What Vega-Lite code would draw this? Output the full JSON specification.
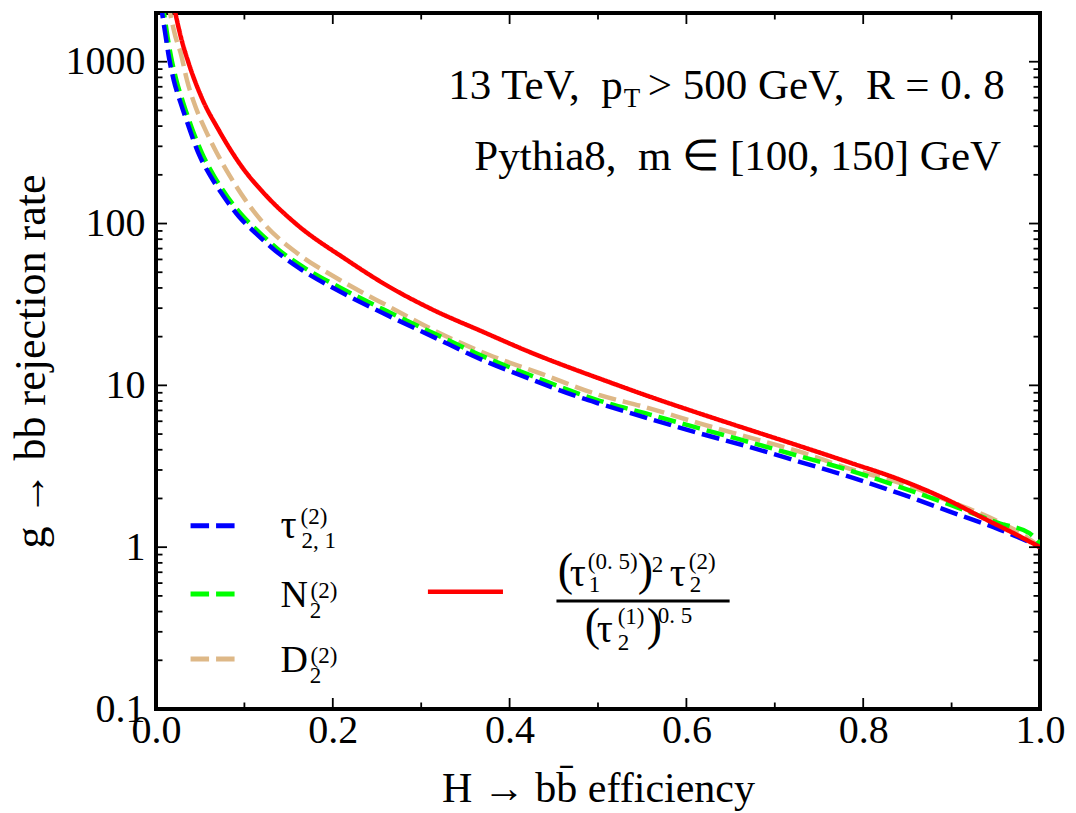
{
  "$schema": "https://vega.github.io/schema/vega-lite/v6.json",
  "autosize": {"type": "none"},
  "width": 884,
  "height": 696,
  "padding": {"left": 156, "top": 13, "right": 36, "bottom": 104},
  "background": "white",
  "config": {
    "view": {"stroke": "black", "strokeWidth": 4},
    "text": {"font": "Liberation Serif", "color": "black"}
  },
  "datasets": {
    "xticks": [
      {"t": 0, "k": "major"}, {"t": 0.1, "k": "minor"}, {"t": 0.2, "k": "major"}, {"t": 0.3, "k": "minor"},
      {"t": 0.4, "k": "major"}, {"t": 0.5, "k": "minor"}, {"t": 0.6, "k": "major"}, {"t": 0.7, "k": "minor"},
      {"t": 0.8, "k": "major"}, {"t": 0.9, "k": "minor"}, {"t": 1.0, "k": "major"}
    ],
    "yticks": [
      {"t": 0.1, "k": "major"}, {"t": 0.2, "k": "minor"}, {"t": 0.3, "k": "minor"}, {"t": 0.4, "k": "minor"}, {"t": 0.5, "k": "minor"},
      {"t": 0.6, "k": "minor"}, {"t": 0.7, "k": "minor"}, {"t": 0.8, "k": "minor"}, {"t": 0.9, "k": "minor"},
      {"t": 1, "k": "major"}, {"t": 2, "k": "minor"}, {"t": 3, "k": "minor"}, {"t": 4, "k": "minor"}, {"t": 5, "k": "minor"},
      {"t": 6, "k": "minor"}, {"t": 7, "k": "minor"}, {"t": 8, "k": "minor"}, {"t": 9, "k": "minor"},
      {"t": 10, "k": "major"}, {"t": 20, "k": "minor"}, {"t": 30, "k": "minor"}, {"t": 40, "k": "minor"}, {"t": 50, "k": "minor"},
      {"t": 60, "k": "minor"}, {"t": 70, "k": "minor"}, {"t": 80, "k": "minor"}, {"t": 90, "k": "minor"},
      {"t": 100, "k": "major"}, {"t": 200, "k": "minor"}, {"t": 300, "k": "minor"}, {"t": 400, "k": "minor"}, {"t": 500, "k": "minor"},
      {"t": 600, "k": "minor"}, {"t": 700, "k": "minor"}, {"t": 800, "k": "minor"}, {"t": 900, "k": "minor"},
      {"t": 1000, "k": "major"}
    ]
  },
  "layer": [
    {
      "data": {"values": [
        {"s": "D2", "e": 0.013, "v": 2400}, {"s": "D2", "e": 0.016, "v": 1990}, {"s": "D2", "e": 0.022, "v": 1430},
        {"s": "D2", "e": 0.028, "v": 1127}, {"s": "D2", "e": 0.035, "v": 771}, {"s": "D2", "e": 0.045, "v": 521},
        {"s": "D2", "e": 0.056, "v": 378}, {"s": "D2", "e": 0.069, "v": 272}, {"s": "D2", "e": 0.084, "v": 195},
        {"s": "D2", "e": 0.101, "v": 140}, {"s": "D2", "e": 0.122, "v": 100}, {"s": "D2", "e": 0.16, "v": 65.4},
        {"s": "D2", "e": 0.208, "v": 44.8}, {"s": "D2", "e": 0.264, "v": 30.6}, {"s": "D2", "e": 0.321, "v": 21},
        {"s": "D2", "e": 0.377, "v": 15.4}, {"s": "D2", "e": 0.434, "v": 11.9}, {"s": "D2", "e": 0.502, "v": 8.7},
        {"s": "D2", "e": 0.551, "v": 7.4}, {"s": "D2", "e": 0.615, "v": 5.82}, {"s": "D2", "e": 0.672, "v": 4.75},
        {"s": "D2", "e": 0.728, "v": 3.89}, {"s": "D2", "e": 0.785, "v": 3.05}, {"s": "D2", "e": 0.841, "v": 2.5},
        {"s": "D2", "e": 0.898, "v": 1.92}, {"s": "D2", "e": 0.955, "v": 1.42}, {"s": "D2", "e": 0.98, "v": 1.2},
        {"s": "D2", "e": 1.0, "v": 1.0},
        {"s": "N2", "e": 0.006, "v": 2400}, {"s": "N2", "e": 0.009, "v": 1990}, {"s": "N2", "e": 0.013, "v": 1430},
        {"s": "N2", "e": 0.017, "v": 1074}, {"s": "N2", "e": 0.023, "v": 771}, {"s": "N2", "e": 0.031, "v": 553},
        {"s": "N2", "e": 0.04, "v": 397}, {"s": "N2", "e": 0.052, "v": 272}, {"s": "N2", "e": 0.066, "v": 195},
        {"s": "N2", "e": 0.081, "v": 146}, {"s": "N2", "e": 0.099, "v": 110}, {"s": "N2", "e": 0.118, "v": 87},
        {"s": "N2", "e": 0.14, "v": 68}, {"s": "N2", "e": 0.165, "v": 54.5}, {"s": "N2", "e": 0.208, "v": 40.2},
        {"s": "N2", "e": 0.257, "v": 29.5}, {"s": "N2", "e": 0.313, "v": 21.1}, {"s": "N2", "e": 0.37, "v": 15.1},
        {"s": "N2", "e": 0.426, "v": 11.4}, {"s": "N2", "e": 0.483, "v": 8.7}, {"s": "N2", "e": 0.502, "v": 8.03},
        {"s": "N2", "e": 0.559, "v": 6.6}, {"s": "N2", "e": 0.615, "v": 5.42}, {"s": "N2", "e": 0.672, "v": 4.45},
        {"s": "N2", "e": 0.728, "v": 3.65}, {"s": "N2", "e": 0.785, "v": 2.98}, {"s": "N2", "e": 0.841, "v": 2.36},
        {"s": "N2", "e": 0.898, "v": 1.83}, {"s": "N2", "e": 0.955, "v": 1.4}, {"s": "N2", "e": 0.988, "v": 1.22},
        {"s": "N2", "e": 1.0, "v": 1.05},
        {"s": "tau21", "e": 0.005, "v": 2400}, {"s": "tau21", "e": 0.007, "v": 1990}, {"s": "tau21", "e": 0.011, "v": 1430},
        {"s": "tau21", "e": 0.0145, "v": 1074}, {"s": "tau21", "e": 0.02, "v": 771}, {"s": "tau21", "e": 0.028, "v": 553},
        {"s": "tau21", "e": 0.037, "v": 397}, {"s": "tau21", "e": 0.048, "v": 272}, {"s": "tau21", "e": 0.062, "v": 195},
        {"s": "tau21", "e": 0.077, "v": 146}, {"s": "tau21", "e": 0.094, "v": 110}, {"s": "tau21", "e": 0.113, "v": 87},
        {"s": "tau21", "e": 0.135, "v": 68}, {"s": "tau21", "e": 0.162, "v": 53}, {"s": "tau21", "e": 0.208, "v": 38},
        {"s": "tau21", "e": 0.257, "v": 27.9}, {"s": "tau21", "e": 0.313, "v": 20.0}, {"s": "tau21", "e": 0.37, "v": 14.3},
        {"s": "tau21", "e": 0.426, "v": 10.8}, {"s": "tau21", "e": 0.483, "v": 8.3}, {"s": "tau21", "e": 0.502, "v": 7.7},
        {"s": "tau21", "e": 0.559, "v": 6.2}, {"s": "tau21", "e": 0.615, "v": 5.05}, {"s": "tau21", "e": 0.672, "v": 4.15},
        {"s": "tau21", "e": 0.728, "v": 3.37}, {"s": "tau21", "e": 0.785, "v": 2.72}, {"s": "tau21", "e": 0.841, "v": 2.15},
        {"s": "tau21", "e": 0.898, "v": 1.66}, {"s": "tau21", "e": 0.955, "v": 1.28}, {"s": "tau21", "e": 0.992, "v": 1.05},
        {"s": "tau21", "e": 1.0, "v": 1.0},
        {"s": "ratio", "e": 0.019, "v": 2400}, {"s": "ratio", "e": 0.022, "v": 1990}, {"s": "ratio", "e": 0.0277, "v": 1452},
        {"s": "ratio", "e": 0.037, "v": 977}, {"s": "ratio", "e": 0.052, "v": 594}, {"s": "ratio", "e": 0.071, "v": 378},
        {"s": "ratio", "e": 0.098, "v": 221}, {"s": "ratio", "e": 0.124, "v": 150}, {"s": "ratio", "e": 0.158, "v": 100},
        {"s": "ratio", "e": 0.215, "v": 60}, {"s": "ratio", "e": 0.264, "v": 40.6}, {"s": "ratio", "e": 0.31, "v": 29.9},
        {"s": "ratio", "e": 0.37, "v": 21.4}, {"s": "ratio", "e": 0.426, "v": 15.8}, {"s": "ratio", "e": 0.483, "v": 12.0},
        {"s": "ratio", "e": 0.502, "v": 11.0}, {"s": "ratio", "e": 0.559, "v": 8.5}, {"s": "ratio", "e": 0.615, "v": 6.7},
        {"s": "ratio", "e": 0.672, "v": 5.3}, {"s": "ratio", "e": 0.728, "v": 4.22}, {"s": "ratio", "e": 0.785, "v": 3.33},
        {"s": "ratio", "e": 0.841, "v": 2.62}, {"s": "ratio", "e": 0.898, "v": 1.93}, {"s": "ratio", "e": 0.936, "v": 1.51},
        {"s": "ratio", "e": 0.974, "v": 1.19}, {"s": "ratio", "e": 1.0, "v": 1.0}
      ]},
      "mark": {"type": "line", "strokeWidth": 4.5, "clip": true, "strokeCap": "butt", "interpolate": "monotone"},
      "encoding": {
        "x": {
          "field": "e", "type": "quantitative",
          "scale": {"domain": [0, 1], "nice": false, "zero": false},
          "axis": {
            "orient": "bottom",
            "values": [0, 0.2, 0.4, 0.6, 0.8, 1.0],
            "format": ".1f",
            "ticks": false, "tickSize": 0,
            "domain": false, "grid": false,
            "labelFont": "Liberation Serif", "labelFontSize": 40, "labelColor": "black",
            "labelPadding": 1, "labelFlush": false, "labelOverlap": false, "labelBound": false,
            "title": "H → bb̄ efficiency", "titleFont": "Liberation Serif", "titleFontSize": 42,
            "titleFontWeight": "normal", "titleColor": "black", "titlePadding": 18
          }
        },
        "y": {
          "field": "v", "type": "quantitative",
          "scale": {"type": "log", "domain": [0.1, 2000], "nice": false},
          "axis": {
            "orient": "left",
            "values": [0.1, 1, 10, 100, 1000],
            "labelExpr": "datum.value==0.1 ? '0.1' : format(datum.value,'d')",
            "ticks": false, "tickSize": 0,
            "domain": false, "grid": false,
            "labelFont": "Liberation Serif", "labelFontSize": 40, "labelColor": "black",
            "labelPadding": 11, "labelOverlap": false, "labelBound": false, "labelFlush": false,
            "title": "g  →  bb rejection rate", "titleFont": "Liberation Serif", "titleFontSize": 44,
            "titleFontWeight": "normal", "titleColor": "black", "titlePadding": 12
          }
        },
        "color": {"field": "s", "type": "nominal", "legend": null,
          "scale": {"domain": ["D2", "N2", "tau21", "ratio"], "range": ["#deb887", "#00ff00", "#0000ff", "#ff0000"]}},
        "strokeDash": {"field": "s", "type": "nominal", "legend": null,
          "scale": {"domain": ["D2", "N2", "tau21", "ratio"], "range": [[18, 7], [18, 7], [18, 7], [1, 0]]}}
      }
    },
    {
      "data": {"name": "xticks"},
      "mark": {"type": "tick", "orient": "vertical", "thickness": 1.8, "color": "black", "opacity": 1, "clip": true},
      "encoding": {
        "x": {"field": "t", "type": "quantitative", "title": "H → bb̄ efficiency"},
        "y": {"datum": 0.1, "type": "quantitative"},
        "size": {"field": "k", "type": "nominal", "legend": null, "scale": {"domain": ["minor", "major"], "range": [13, 22]}}
      }
    },
    {
      "data": {"name": "xticks"},
      "mark": {"type": "tick", "orient": "vertical", "thickness": 1.8, "color": "black", "opacity": 1, "clip": true},
      "encoding": {
        "x": {"field": "t", "type": "quantitative", "title": "H → bb̄ efficiency"},
        "y": {"datum": 2000, "type": "quantitative"},
        "size": {"field": "k", "type": "nominal", "legend": null, "scale": {"domain": ["minor", "major"], "range": [13, 22]}}
      }
    },
    {
      "data": {"name": "yticks"},
      "mark": {"type": "tick", "orient": "horizontal", "thickness": 1.8, "color": "black", "opacity": 1, "clip": true},
      "encoding": {
        "y": {"field": "t", "type": "quantitative", "title": "g  →  bb rejection rate"},
        "x": {"datum": 0, "type": "quantitative"},
        "size": {"field": "k", "type": "nominal", "legend": null, "scale": {"domain": ["minor", "major"], "range": [13, 22]}}
      }
    },
    {
      "data": {"name": "yticks"},
      "mark": {"type": "tick", "orient": "horizontal", "thickness": 1.8, "color": "black", "opacity": 1, "clip": true},
      "encoding": {
        "y": {"field": "t", "type": "quantitative", "title": "g  →  bb rejection rate"},
        "x": {"datum": 1, "type": "quantitative"},
        "size": {"field": "k", "type": "nominal", "legend": null, "scale": {"domain": ["minor", "major"], "range": [13, 22]}}
      }
    },
    {"data": {"values": [{}]}, "mark": {"type": "rule", "color": "#0000ff", "strokeWidth": 5, "strokeDash": [18.5, 7], "strokeCap": "butt"},
     "encoding": {"x": {"datum": 0.0391, "type": "quantitative"}, "x2": {"datum": 0.0896}, "y": {"datum": 1.357, "type": "quantitative"}}},
    {"data": {"values": [{}]}, "mark": {"type": "rule", "color": "#00ff00", "strokeWidth": 5, "strokeDash": [18.5, 7], "strokeCap": "butt"},
     "encoding": {"x": {"datum": 0.0391, "type": "quantitative"}, "x2": {"datum": 0.0896}, "y": {"datum": 0.5135, "type": "quantitative"}}},
    {"data": {"values": [{}]}, "mark": {"type": "rule", "color": "#deb887", "strokeWidth": 5, "strokeDash": [18.5, 7], "strokeCap": "butt"},
     "encoding": {"x": {"datum": 0.0391, "type": "quantitative"}, "x2": {"datum": 0.0896}, "y": {"datum": 0.2036, "type": "quantitative"}}},
    {"data": {"values": [{}]}, "mark": {"type": "rule", "color": "#ff0000", "strokeWidth": 4.5, "strokeCap": "butt"},
     "encoding": {"x": {"datum": 0.3076, "type": "quantitative"}, "x2": {"datum": 0.3925}, "y": {"datum": 0.5305, "type": "quantitative"}}},
    {"data": {"values": [{}]}, "mark": {"type": "rule", "color": "black", "strokeWidth": 3, "strokeCap": "butt"},
     "encoding": {"x": {"datum": 0.453, "type": "quantitative"}, "x2": {"datum": 0.6489}, "y": {"datum": 0.4648, "type": "quantitative"}}},

    {"data": {"values": [{}]}, "mark": {"type": "text", "text": "τ", "fontSize": 40, "align": "left", "baseline": "alphabetic"},
     "encoding": {"x": {"datum": 0.1409, "type": "quantitative"}, "y": {"datum": 1.139, "type": "quantitative"}}},
    {"data": {"values": [{}]}, "mark": {"type": "text", "text": "(2)", "fontSize": 23, "align": "left", "baseline": "alphabetic"},
     "encoding": {"x": {"datum": 0.1635, "type": "quantitative"}, "y": {"datum": 1.39, "type": "quantitative"}}},
    {"data": {"values": [{}]}, "mark": {"type": "text", "text": "2, 1", "fontSize": 23, "align": "left", "baseline": "alphabetic"},
     "encoding": {"x": {"datum": 0.1645, "type": "quantitative"}, "y": {"datum": 0.988, "type": "quantitative"}}},

    {"data": {"values": [{}]}, "mark": {"type": "text", "text": "N", "fontSize": 38, "align": "left", "baseline": "alphabetic"},
     "encoding": {"x": {"datum": 0.1409, "type": "quantitative"}, "y": {"datum": 0.4286, "type": "quantitative"}}},
    {"data": {"values": [{}]}, "mark": {"type": "text", "text": "2", "fontSize": 23, "align": "left", "baseline": "alphabetic"},
     "encoding": {"x": {"datum": 0.1738, "type": "quantitative"}, "y": {"datum": 0.365, "type": "quantitative"}}},
    {"data": {"values": [{}]}, "mark": {"type": "text", "text": "(2)", "fontSize": 23, "align": "left", "baseline": "alphabetic"},
     "encoding": {"x": {"datum": 0.1749, "type": "quantitative"}, "y": {"datum": 0.4886, "type": "quantitative"}}},

    {"data": {"values": [{}]}, "mark": {"type": "text", "text": "D", "fontSize": 38, "align": "left", "baseline": "alphabetic"},
     "encoding": {"x": {"datum": 0.1409, "type": "quantitative"}, "y": {"datum": 0.1699, "type": "quantitative"}}},
    {"data": {"values": [{}]}, "mark": {"type": "text", "text": "2", "fontSize": 23, "align": "left", "baseline": "alphabetic"},
     "encoding": {"x": {"datum": 0.1738, "type": "quantitative"}, "y": {"datum": 0.1447, "type": "quantitative"}}},
    {"data": {"values": [{}]}, "mark": {"type": "text", "text": "(2)", "fontSize": 23, "align": "left", "baseline": "alphabetic"},
     "encoding": {"x": {"datum": 0.1749, "type": "quantitative"}, "y": {"datum": 0.1937, "type": "quantitative"}}},

    {"data": {"values": [{}]}, "mark": {"type": "text", "text": "(", "fontSize": 46, "align": "left", "baseline": "alphabetic"},
     "encoding": {"x": {"datum": 0.4544, "type": "quantitative"}, "y": {"datum": 0.5834, "type": "quantitative"}}},
    {"data": {"values": [{}]}, "mark": {"type": "text", "text": "τ", "fontSize": 40, "align": "left", "baseline": "alphabetic"},
     "encoding": {"x": {"datum": 0.468, "type": "quantitative"}, "y": {"datum": 0.5754, "type": "quantitative"}}},
    {"data": {"values": [{}]}, "mark": {"type": "text", "text": "(0. 5)", "fontSize": 23, "align": "left", "baseline": "alphabetic"},
     "encoding": {"x": {"datum": 0.4884, "type": "quantitative"}, "y": {"datum": 0.7329, "type": "quantitative"}}},
    {"data": {"values": [{}]}, "mark": {"type": "text", "text": "1", "fontSize": 23, "align": "left", "baseline": "alphabetic"},
     "encoding": {"x": {"datum": 0.4895, "type": "quantitative"}, "y": {"datum": 0.5284, "type": "quantitative"}}},
    {"data": {"values": [{}]}, "mark": {"type": "text", "text": ")", "fontSize": 46, "align": "left", "baseline": "alphabetic"},
     "encoding": {"x": {"datum": 0.545, "type": "quantitative"}, "y": {"datum": 0.5834, "type": "quantitative"}}},
    {"data": {"values": [{}]}, "mark": {"type": "text", "text": "2", "fontSize": 23, "align": "left", "baseline": "alphabetic"},
     "encoding": {"x": {"datum": 0.5608, "type": "quantitative"}, "y": {"datum": 0.7023, "type": "quantitative"}}},
    {"data": {"values": [{}]}, "mark": {"type": "text", "text": "τ", "fontSize": 40, "align": "left", "baseline": "alphabetic"},
     "encoding": {"x": {"datum": 0.5812, "type": "quantitative"}, "y": {"datum": 0.5754, "type": "quantitative"}}},
    {"data": {"values": [{}]}, "mark": {"type": "text", "text": "(2)", "fontSize": 23, "align": "left", "baseline": "alphabetic"},
     "encoding": {"x": {"datum": 0.6027, "type": "quantitative"}, "y": {"datum": 0.7329, "type": "quantitative"}}},
    {"data": {"values": [{}]}, "mark": {"type": "text", "text": "2", "fontSize": 23, "align": "left", "baseline": "alphabetic"},
     "encoding": {"x": {"datum": 0.6039, "type": "quantitative"}, "y": {"datum": 0.5284, "type": "quantitative"}}},

    {"data": {"values": [{}]}, "mark": {"type": "text", "text": "(", "fontSize": 46, "align": "left", "baseline": "alphabetic"},
     "encoding": {"x": {"datum": 0.485, "type": "quantitative"}, "y": {"datum": 0.2668, "type": "quantitative"}}},
    {"data": {"values": [{}]}, "mark": {"type": "text", "text": "τ", "fontSize": 40, "align": "left", "baseline": "alphabetic"},
     "encoding": {"x": {"datum": 0.4986, "type": "quantitative"}, "y": {"datum": 0.2593, "type": "quantitative"}}},
    {"data": {"values": [{}]}, "mark": {"type": "text", "text": "(1)", "fontSize": 23, "align": "left", "baseline": "alphabetic"},
     "encoding": {"x": {"datum": 0.5223, "type": "quantitative"}, "y": {"datum": 0.335, "type": "quantitative"}}},
    {"data": {"values": [{}]}, "mark": {"type": "text", "text": "2", "fontSize": 23, "align": "left", "baseline": "alphabetic"},
     "encoding": {"x": {"datum": 0.5223, "type": "quantitative"}, "y": {"datum": 0.2314, "type": "quantitative"}}},
    {"data": {"values": [{}]}, "mark": {"type": "text", "text": ")", "fontSize": 46, "align": "left", "baseline": "alphabetic"},
     "encoding": {"x": {"datum": 0.5552, "type": "quantitative"}, "y": {"datum": 0.2668, "type": "quantitative"}}},
    {"data": {"values": [{}]}, "mark": {"type": "text", "text": "0. 5", "fontSize": 23, "align": "left", "baseline": "alphabetic"},
     "encoding": {"x": {"datum": 0.5676, "type": "quantitative"}, "y": {"datum": 0.34, "type": "quantitative"}}},

    {"data": {"values": [{}]}, "mark": {"type": "text", "text": "13 TeV, \u00a0p", "fontSize": 43, "align": "right", "baseline": "alphabetic"},
     "encoding": {"x": {"datum": 0.528, "type": "quantitative"}, "y": {"datum": 590, "type": "quantitative"}}},
    {"data": {"values": [{}]}, "mark": {"type": "text", "text": "T", "fontSize": 27, "align": "left", "baseline": "alphabetic"},
     "encoding": {"x": {"datum": 0.5292, "type": "quantitative"}, "y": {"datum": 527, "type": "quantitative"}}},
    {"data": {"values": [{}]}, "mark": {"type": "text", "text": "> 500 GeV, \u00a0R = 0. 8", "fontSize": 43, "align": "left", "baseline": "alphabetic"},
     "encoding": {"x": {"datum": 0.5563, "type": "quantitative"}, "y": {"datum": 590, "type": "quantitative"}}},
    {"data": {"values": [{}]}, "mark": {"type": "text", "text": "Pythia8, \u00a0m ∈ [100, 150] GeV", "fontSize": 43, "align": "right", "baseline": "alphabetic"},
     "encoding": {"x": {"datum": 0.9559, "type": "quantitative"}, "y": {"datum": 213, "type": "quantitative"}}}
  ]
}
